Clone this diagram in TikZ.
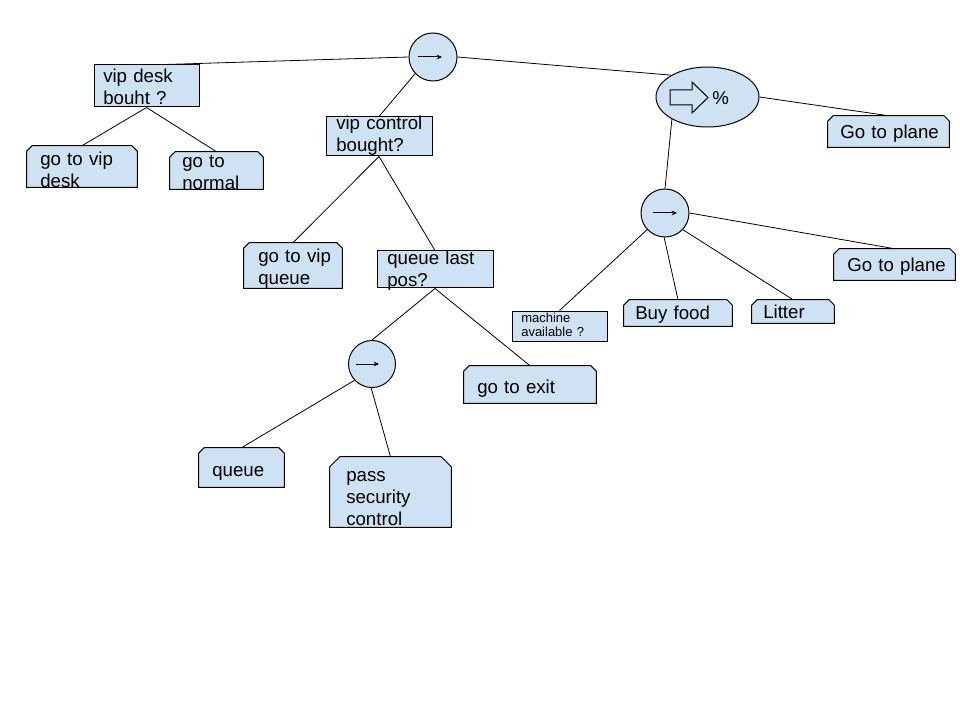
\documentclass[tikz,border=0pt]{standalone}
\usepackage{fontspec}
\setmainfont{Liberation Sans}
\usetikzlibrary{arrows.meta,shapes.geometric,fit,calc}
\definecolor{lb}{HTML}{CFE2F3}
\newcommand\chamf[2]{%
  \draw[chline] (#1.south west) -- ([yshift=-#2]#1.north west) -- ([xshift=#2]#1.north west)
    -- ([xshift=-#2]#1.north east) -- ([yshift=-#2]#1.north east) -- (#1.south east) -- cycle;}
\begin{document}
\begin{tikzpicture}[x=0.75pt,y=-0.75pt,
  box/.style={draw=black, fill=lb, line width=0.75pt, inner sep=0pt, rectangle},
  leafbox/.style={inner sep=0pt, rectangle},
  chline/.style={draw=black, fill=lb, line width=0.75pt, line join=miter},
  opnode/.style={draw=black, fill=lb, circle, minimum size=36pt, inner sep=0pt, line width=0.75pt},
  conn/.style={draw=black, line width=0.6pt},
  seqarrow/.style={line width=0.75pt, -{Stealth[length=4pt,width=3.5pt]}},
  txt/.style={anchor=base west, inner sep=0pt, text width=150pt, align=left, font=\fontsize{14}{16.5}\selectfont},
  smalltxt/.style={anchor=base west, inner sep=0pt, text width=100pt, align=left, font=\fontsize{9.75}{10.5}\selectfont},
]
\useasboundingbox[fill=white] (0,0) rectangle (960,720);

% decision boxes
\node[box, fit={(94,65) (199,107)}] (vd) {};
\node[box, fit={(326,117) (432,156)}] (vc) {};
\node[box, fit={(377,251) (493,288)}] (ql) {};
\node[box, fit={(512,311) (607,341)}] (ma) {};

% action boxes (chamfered)
\node[leafbox, fit={(27,146) (137,187)}] (gvd) {};
\node[leafbox, fit={(170,152) (263,189)}] (gn) {};
\node[leafbox, fit={(244,243) (342,288)}] (gvq) {};
\node[leafbox, fit={(464,366) (596,403)}] (ge) {};
\node[leafbox, fit={(199,448) (284,487)}] (q) {};
\node[leafbox, fit={(330,457) (451,527)}] (pass) {};
\node[leafbox, fit={(828,116) (949,147)}] (gp1) {};
\node[leafbox, fit={(834,249) (955,280)}] (gp2) {};
\node[leafbox, fit={(624,300) (732,326)}] (bf) {};
\node[leafbox, fit={(752,300) (834,323)}] (li) {};
\chamf{gvd}{4pt}
\chamf{gn}{4pt}
\chamf{gvq}{4pt}
\chamf{ge}{4pt}
\chamf{q}{4pt}
\chamf{pass}{7.5pt}
\chamf{gp1}{4pt}
\chamf{gp2}{4pt}
\chamf{bf}{4pt}
\chamf{li}{4pt}

% operator nodes
\node[opnode] (root) at (433,57) {};
\node[opnode, minimum size=35.25pt] (c1) at (372,364) {};
\node[opnode] (c2) at (665,213) {};
\node[draw=black, fill=lb, ellipse, minimum width=77.25pt, minimum height=45pt, inner sep=0pt, line width=0.75pt] (el) at (707.5,97) {};

% arrows inside operators
\draw[seqarrow] ([xshift=-11.25pt]root.center) -- ([xshift=6.75pt]root.center);
\draw[seqarrow] ([xshift=-12pt]c1.center) -- ([xshift=5.25pt]c1.center);
\draw[seqarrow] ([xshift=-9pt]c2.center) -- ([xshift=9pt]c2.center);
\draw[line width=0.75pt, line join=miter] (670,90) -- (692,90) -- (692,82) -- (708,97.5) -- (692,113) -- (692,105) -- (670,105) -- cycle;
\node[txt, text width=20pt] (pct) at (712,105) {\%};

% connectors
\draw[conn] (root.west) -- ($(vd.north west)!0.68!(vd.north east)$);
\draw[conn] (root.223) -- (vc.north);
\draw[conn] (root.east) -- (el.149);
\draw[conn] (vd.south) -- (gvd.north);
\draw[conn] (vd.south) -- (gn.north);
\draw[conn] (vc.south) -- (gvq.north);
\draw[conn] (vc.south) -- (ql.north);
\draw[conn] (ql.south) -- (c1.north);
\draw[conn] (ql.south) -- (ge.north);
\draw[conn] (c1.223) -- (q.north);
\draw[conn] (c1.268) -- (pass.north);
\draw[conn] (el.east) -- (gp1.north);
\draw[conn] (el.212) -- (c2.north);
\draw[conn] (c2.223) -- (ma.north);
\draw[conn] (c2.268) -- (bf.north);
\draw[conn] (c2.-43) -- (li.north);
\draw[conn] (c2.east) -- (gp2.north);

% texts
\node[txt] (tvd) at (103,83) {vip desk\\bouht ?};
\node[txt] (tgvd) at (40,166) {go to vip\\desk};
\node[txt] (tgn) at (182,168) {go to\\normal};
\node[txt] (tvc) at (336,130) {vip control\\bought?};
\node[txt] (tgvq) at (258,263) {go to vip\\queue};
\node[txt] (tql) at (387,265) {queue last\\pos?};
\node[txt] (tge) at (477,393) {go to exit};
\node[txt] (tq) at (212,476) {queue};
\node[txt] (tpass) at (346,481) {pass\\security\\control};
\node[txt] (tgp1) at (840,139) {Go to plane};
\node[txt] (tgp2) at (847,272) {Go to plane};
\node[txt] (tbf) at (635,320) {Buy food};
\node[txt] (tli) at (763,318) {Litter};
\node[smalltxt] (tma) at (521,322) {machine\\available ?};
\end{tikzpicture}
\end{document}
